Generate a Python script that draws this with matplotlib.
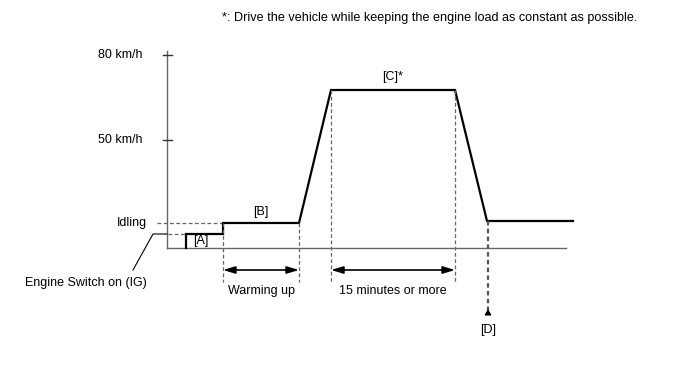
import matplotlib.pyplot as plt

plt.rcParams['font.family'] = ['Liberation Sans', 'DejaVu Sans']

# schematic time axis (arbitrary units) and speed level (arbitrary units)
PROFILE_T = [19, 19, 56, 56, 132, 164, 288, 320, 406]
PROFILE_V = [0, 14, 14, 25, 25, 158, 158, 27, 27]

TICK_LEVELS = [193, 108]
TICK_LABELS = ['80 km/h', '50 km/h']
IDLE_LEVEL = 25
START_LEVEL = 14
AXIS_TOP = 197
BASE_END = 399

PHASES = [('Warming up', 56, 132, 25), ('15 minutes or more', 164, 288, 158)]
D_TIME = 321
D_LEVEL = 27

NOTE = '*: Drive the vehicle while keeping the engine load as constant as possible.'

fig = plt.figure(figsize=(6.88, 3.66), dpi=100)
ax = fig.add_axes([0, 0, 1, 1])
ax.set_xlim(-167, 688 - 167)
ax.set_ylim(248 - 366, 248)
ax.axis('off')

grey = '#666666'
# axes
ax.plot([0, 0], [0, AXIS_TOP], color=grey, lw=1)
ax.plot([0, BASE_END], [0, 0], color=grey, lw=1)
for lev, lab in zip(TICK_LEVELS, TICK_LABELS):
    ax.plot([-4, 5], [lev, lev], color='#333333', lw=1)
    ax.text(-25, lev, lab, ha='right', va='center', fontsize=9)

# idling label + dashed guides
ax.text(-20, IDLE_LEVEL, 'Idling', ha='right', va='center', fontsize=9)
ax.plot([-10, PROFILE_T[2]], [IDLE_LEVEL, IDLE_LEVEL], color=grey, lw=0.9, ls=(0, (3, 2)))
ax.plot([1, PROFILE_T[0]], [START_LEVEL, START_LEVEL], color=grey, lw=0.9, ls=(0, (3, 2)))

# engine switch leader
ax.plot([-34, -14, 0], [-22, START_LEVEL, START_LEVEL], color='black', lw=0.8)
ax.text(-20, -35, 'Engine Switch on (IG)', ha='right', va='center', fontsize=9)

# speed profile
ax.plot(PROFILE_T, PROFILE_V, color='black', lw=1.6, solid_joinstyle='miter')

ax.text(34, 7, '[A]', ha='center', va='center', fontsize=9)
ax.text(94, 36, '[B]', ha='center', va='center', fontsize=9)
ax.text(226, 171, '[C]*', ha='center', va='center', fontsize=9)

# phase arrows
for lab, t0, t1, lev in PHASES:
    for t in (t0, t1):
        ax.plot([t, t], [lev, -34], color=grey, lw=0.9, ls=(0, (3, 2)))
    ax.annotate('', xy=(t1, -22), xytext=(t0, -22),
                arrowprops=dict(arrowstyle='<|-|>,head_length=0.6,head_width=0.18',
                                color='black', lw=1.2,
                                mutation_scale=12, shrinkA=0, shrinkB=0))
    ax.text((t0 + t1) / 2, -43, lab, ha='center', va='center', fontsize=9)

# [D]
ax.plot([D_TIME, D_TIME], [D_LEVEL, -62], color='#555555', lw=1.6, ls=(0, (2, 1.5)))
ax.annotate('', xy=(D_TIME, -61), xytext=(D_TIME, -66),
            arrowprops=dict(arrowstyle='-|>,head_length=0.35,head_width=0.2',
                            color='black', lw=0.8,
                            mutation_scale=10, shrinkA=0, shrinkB=0))
ax.text(D_TIME, -82, '[D]', ha='center', va='center', fontsize=9)

ax.text(470, 230, NOTE, ha='right', va='center', fontsize=9.1)

fig.savefig('out.png', dpi=100)
